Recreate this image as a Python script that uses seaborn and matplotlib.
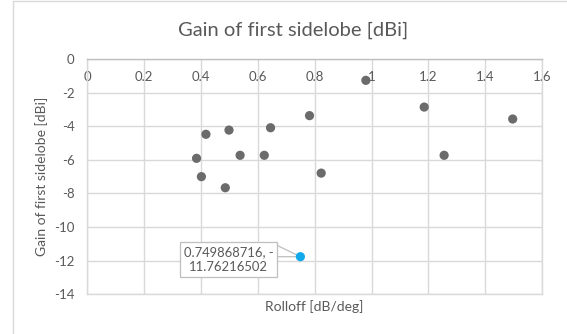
import matplotlib
matplotlib.use("Agg")
import matplotlib.pyplot as plt
from matplotlib.patches import Rectangle
import seaborn as sns
import pandas as pd

# Measured rolloff vs. first-sidelobe gain
rolloff = [0.385, 0.402, 0.418, 0.486, 0.499, 0.538, 0.623, 0.645,
           0.782, 0.823, 0.980, 1.185, 1.255, 1.496]
gain = [-5.91, -7.00, -4.48, -7.66, -4.23, -5.73, -5.73, -4.09,
        -3.37, -6.79, -1.27, -2.86, -5.73, -3.57]

# Highlighted sample
hl_rolloff = 0.749868716
hl_gain = -11.76216502

x_ticks = [0, 0.2, 0.4, 0.6, 0.8, 1, 1.2, 1.4, 1.6]
x_tick_labels = ["0", "0.2", "0.4", "0.6", "0.8", "1", "1.2", "1.4", "1.6"]
y_ticks = [0, -2, -4, -6, -8, -10, -12, -14]
y_tick_labels = ["0", "-2", "-4", "-6", "-8", "-10", "-12", "-14"]

title = "Gain of first sidelobe [dBi]"
x_label = "Rolloff [dB/deg]"
y_label = "Gain of first sidelobe [dBi]"

sns.set_theme(style="white")
plt.rcParams["font.family"] = ["Lato", "DejaVu Sans"]
TXT = "#595959"
GRID = "#d9d9d9"
CALLOUT = "#bfbfbf"

df = pd.DataFrame({"rolloff": rolloff, "gain": gain})
hl = pd.DataFrame({"rolloff": [hl_rolloff], "gain": [hl_gain]})

fig = plt.figure(figsize=(5.67, 3.34), dpi=100)
fig.patch.set_facecolor("white")
ax = fig.add_axes([87 / 567, 1 - 294.3 / 334, (542.3 - 87) / 567, (294.3 - 59) / 334])

sns.scatterplot(data=df, x="rolloff", y="gain", ax=ax, color="#6b6b6b",
                s=44, edgecolor="none", zorder=3)
sns.scatterplot(data=hl, x="rolloff", y="gain", ax=ax, color="#12a9ec",
                s=44, edgecolor="none", zorder=6)

ax.set_xlim(0, 1.6)
ax.set_ylim(-14, 0)
ax.set_xticks(x_ticks)
ax.set_xticklabels(x_tick_labels)
ax.set_yticks(y_ticks)
ax.set_yticklabels(y_tick_labels)
ax.grid(True, color=GRID, linewidth=1.0)
ax.set_axisbelow(True)
for side, sp in ax.spines.items():
    sp.set_visible(True)
    sp.set_color(GRID)
    sp.set_linewidth(1.0)
ax.spines["top"].set_color("#bfbfbf")

ax.xaxis.tick_top()
ax.tick_params(axis="x", length=0, pad=-17.5, labelsize=9.5, labelcolor=TXT,
               labeltop=True, labelbottom=False)
ax.tick_params(axis="y", length=0, pad=9, labelsize=9.5, labelcolor=TXT)
ax.set_xlabel("")
ax.set_ylabel("")

fig.text(314.5 / 567, 1 - 307 / 334, x_label, ha="center", va="center",
         fontsize=10, color=TXT)
fig.text(42 / 567, 1 - 176 / 334, y_label, ha="center", va="center",
         rotation=90, fontsize=10, color=TXT)
fig.text(293 / 567, 1 - 30 / 334, title, ha="center", va="center",
         fontsize=14.5, color=TXT)

# Data callout for the highlighted sample: leader wedge, then the label box
for dy in (11.7, 0.0):
    ax.annotate("", xy=(hl_rolloff, hl_gain), xytext=(-24, dy),
                textcoords="offset pixels",
                arrowprops=dict(arrowstyle="-", color=CALLOUT, lw=0.9,
                                shrinkA=0, shrinkB=0),
                zorder=4)
ax.annotate(f"{hl_rolloff}, -\n{abs(hl_gain)}",
            xy=(hl_rolloff, hl_gain), xytext=(-72, -3),
            textcoords="offset pixels", ha="center", va="center",
            fontsize=9.4, color=TXT, linespacing=1.35,
            bbox=dict(boxstyle="square,pad=0.3", fc="white", ec=CALLOUT, lw=0.9),
            zorder=5)

# Chart area border
fig.add_artist(Rectangle((12.5 / 567, -0.1), 1.0, 1.1 - 1.5 / 334,
                         transform=fig.transFigure, fill=False,
                         ec=GRID, lw=1.0))

fig.savefig("out.png", dpi=100, facecolor="white")
